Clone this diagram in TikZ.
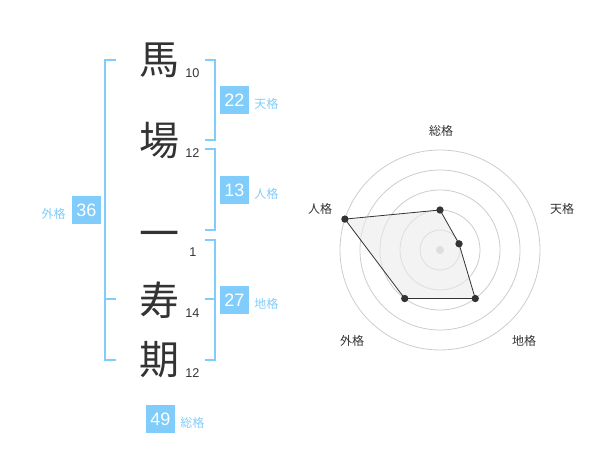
\documentclass[tikz,border=0pt]{standalone}
\usepackage{fontspec}
\setmainfont{Liberation Sans}
\newfontfamily\jpfont{Noto Sans CJK JP}
\usetikzlibrary{positioning}
\definecolor{kakublue}{RGB}{128,204,250}
\definecolor{inkgray}{RGB}{51,51,51}

\begin{document}
\begin{tikzpicture}[x=0.75pt,y=-0.75pt,
    kanji/.style={font=\jpfont\fontsize{30}{30}\selectfont,text=inkgray,inner sep=0pt},
    stroke/.style={font=\fontsize{9.5}{10}\selectfont,text=inkgray,inner sep=0pt,anchor=west},
    kakubox/.style={fill=kakublue,text=white,font=\fontsize{13.5}{14}\selectfont,minimum width=21.75pt,minimum height=21pt,inner sep=0pt},
    kakulabel/.style={text=kakublue,font=\jpfont\fontsize{9}{9}\selectfont,inner sep=0pt},
    bracket/.style={draw=kakublue,line width=1.5pt},
    ring/.style={draw=black!20,line width=0.6pt},
    axislabel/.style={font=\jpfont\fontsize{9}{9}\selectfont,text=inkgray,inner sep=0pt},
    dot/.style={circle,fill=inkgray,inner sep=0pt,minimum size=5.5pt}]
    \useasboundingbox (0,0) rectangle (600,470);

    \node[kanji] (ba) at (159,60) {馬};
    \node[kanji] (jo) at (159,141) {場};
    \node[kanji] (ichi) at (159,240) {一};
    \node[kanji] (ju) at (159,300) {寿};
    \node[kanji] (ki) at (159,360) {期};

    \node[stroke] (nba) at (185,73) {10};
    \node[stroke] (njo) at (185,153) {12};
    \node[stroke] (nichi) at (189,252) {1};
    \node[stroke] (nju) at (185,313) {14};
    \node[stroke] (nki) at (185,373) {12};

    \draw[bracket] (205,60) -- (215,60) -- (215,140) -- (205,140);
    \draw[bracket] (205,149) -- (215,149) -- (215,230) -- (205,230);
    \draw[bracket] (205,240) -- (215,240) -- (215,360) -- (205,360);
    \draw[bracket] (205,299) -- (215,299);
    \draw[bracket] (116,60) -- (105,60) -- (105,360) -- (116,360);
    \draw[bracket] (105,299) -- (116,299);

    \node[kakubox] (tenkaku) at (234.5,100) {22};
    \node[kakulabel,anchor=west] (tenlabel) at (254,104) {天格};
    \node[kakubox] (jinkaku) at (234.5,190) {13};
    \node[kakulabel,anchor=west] (jinlabel) at (254,194) {人格};
    \node[kakubox] (chikaku) at (234.5,300) {27};
    \node[kakulabel,anchor=west] (chilabel) at (254,304) {地格};
    \node[kakubox] (gaikaku) at (86.5,210) {36};
    \node[kakulabel,anchor=east] (gailabel) at (66,214) {外格};
    \node[kakubox] (sokaku) at (160.5,419) {49};
    \node[kakulabel,anchor=west] (solabel) at (180,423) {総格};

    \begin{scope}[shift={(440,250)},y=0.75pt]
        \foreach \r in {20,40,...,100}
            \draw[ring] (0,0) circle [radius=\r*0.75pt];
        \node[circle,fill=black!20,inner sep=0pt,minimum size=6pt] (mid) at (0,0) {};
        \foreach \a/\v/\n in {90/2/so,18/1/ten,-54/3/chi,-126/3/gai,162/5/jin}
            \coordinate (\n) at (\a:\v*20);
        \draw[fill=black!8,fill opacity=0.6,draw=inkgray,line width=0.6pt]
            (so) -- (ten) -- (chi) -- (gai) -- (jin) -- cycle;
        \foreach \n in {so,ten,chi,gai,jin}
            \node[dot] (d\n) at (\n) {};
    \end{scope}

    \node[axislabel] (axso) at (441,131) {総格};
    \node[axislabel] (axten) at (562,209) {天格};
    \node[axislabel] (axchi) at (524,341) {地格};
    \node[axislabel] (axgai) at (352,341) {外格};
    \node[axislabel] (axjin) at (320,209) {人格};
\end{tikzpicture}
\end{document}
